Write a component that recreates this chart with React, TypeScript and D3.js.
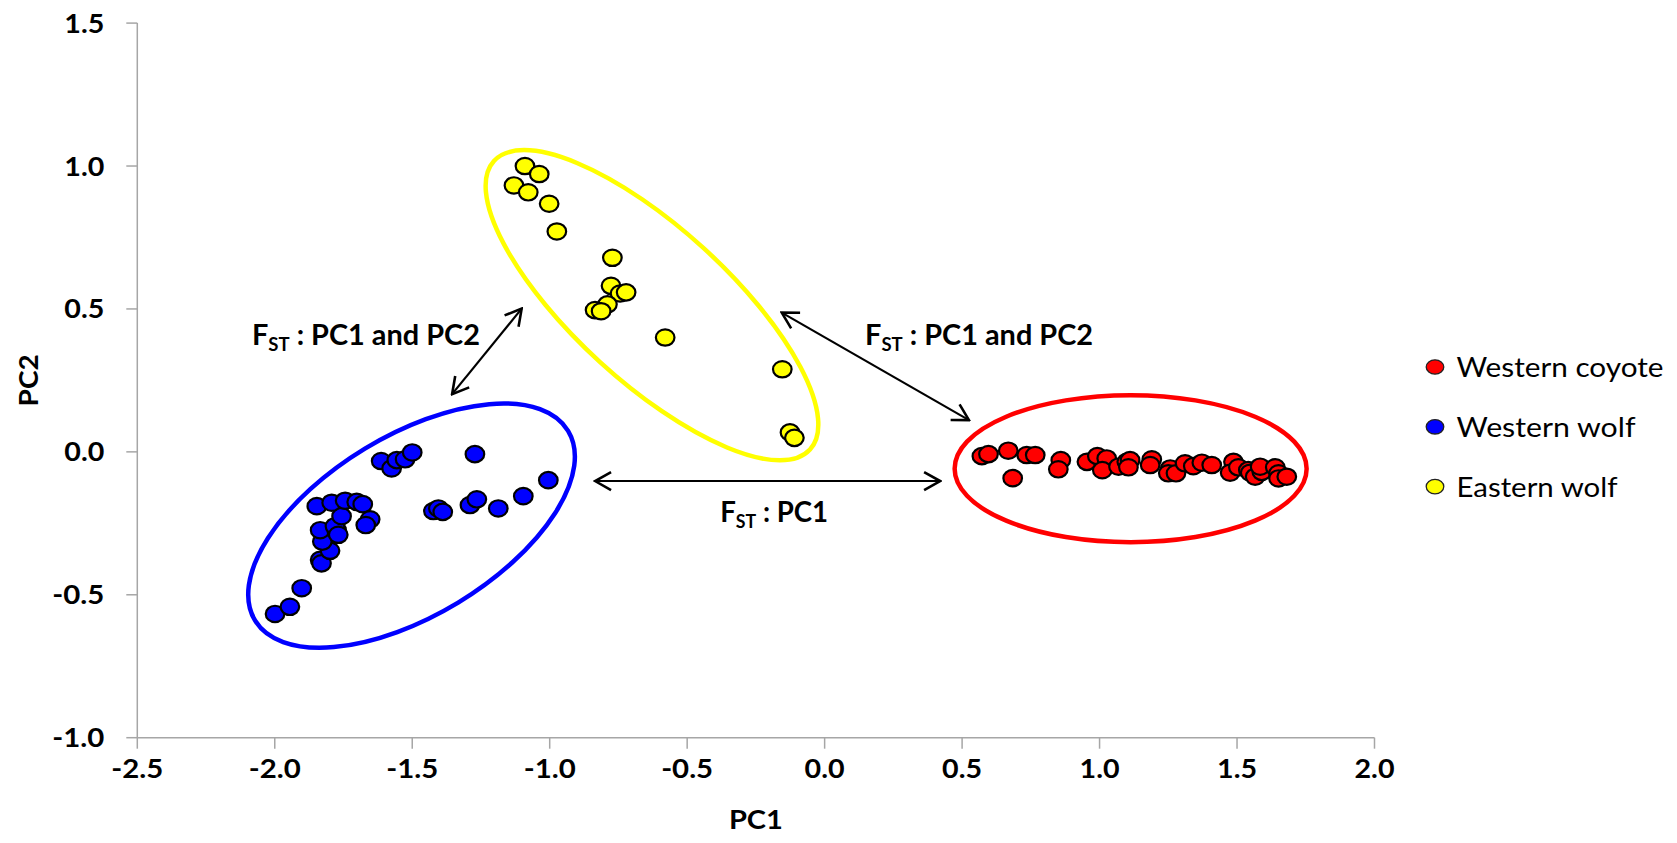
import React from "react";
import * as d3 from "d3";

const W = 1677;
const H = 843;

const X_DOMAIN: [number, number] = [-2.5, 2.0];
const Y_DOMAIN: [number, number] = [-1.0, 1.5];
const xTickValues = [-2.5, -2.0, -1.5, -1.0, -0.5, 0.0, 0.5, 1.0, 1.5, 2.0];
const yTickValues = [-1.0, -0.5, 0.0, 0.5, 1.0, 1.5];
const xTitle = "PC1";
const yTitle = "PC2";

const seriesNames = ["Western coyote", "Western wolf", "Eastern wolf"];
const seriesColors = ["#ff0000", "#0000ff", "#ffff00"];

const coyotePoints: [number, number][] = [
  [0.572, -0.015], [0.596, -0.008], [0.668, 0.004], [0.735, -0.011], [0.766, -0.011],
  [0.684, -0.092], [0.859, -0.029], [0.85, -0.061], [0.954, -0.035], [0.992, -0.015],
  [1.026, -0.023], [1.01, -0.064], [1.069, -0.052], [1.099, -0.035], [1.111, -0.029],
  [1.105, -0.054], [1.19, -0.026], [1.184, -0.046], [1.257, -0.058], [1.25, -0.075],
  [1.278, -0.075], [1.311, -0.04], [1.341, -0.05], [1.372, -0.038], [1.408, -0.046],
  [1.487, -0.035], [1.475, -0.073], [1.505, -0.054], [1.541, -0.064], [1.548, -0.073],
  [1.566, -0.087], [1.59, -0.07], [1.584, -0.052], [1.639, -0.054], [1.651, -0.075],
  [1.651, -0.093], [1.681, -0.087],
];

const wolfPoints: [number, number][] = [
  [-1.999, -0.567], [-1.945, -0.542], [-1.902, -0.477], [-1.835, -0.378], [-1.83, -0.39],
  [-1.799, -0.346], [-1.827, -0.314], [-1.835, -0.274], [-1.775, -0.274], [-1.781, -0.26],
  [-1.757, -0.225], [-1.847, -0.19], [-1.793, -0.178], [-1.744, -0.171], [-1.702, -0.175],
  [-1.68, -0.183], [-1.653, -0.236], [-1.669, -0.256], [-1.769, -0.29], [-1.613, -0.032],
  [-1.575, -0.058], [-1.556, -0.029], [-1.526, -0.026], [-1.5, -0.002], [-1.423, -0.207],
  [-1.405, -0.198], [-1.389, -0.21], [-1.29, -0.186], [-1.265, -0.166], [-1.272, -0.008],
  [-1.187, -0.198], [-1.096, -0.155], [-1.005, -0.099],
];

const easternPoints: [number, number][] = [
  [-1.09, 1.0], [-1.038, 0.972], [-1.13, 0.932], [-1.078, 0.908], [-1.002, 0.868],
  [-0.974, 0.771], [-0.772, 0.679], [-0.777, 0.581], [-0.744, 0.554], [-0.722, 0.558],
  [-0.79, 0.516], [-0.835, 0.496], [-0.813, 0.492], [-0.58, 0.4], [-0.154, 0.289],
  [-0.126, 0.068], [-0.11, 0.049],
];

const seriesPoints = [coyotePoints, wolfPoints, easternPoints];

// cluster outlines: centre in data units, radii (px) and rotation (deg)
const clusterCentres: [number, number][] = [[1.113, -0.059], [-1.5025, -0.258], [-0.628, 0.513]];
const clusterRadii: [number, number][] = [[176, 73.5], [183, 90], [214, 77]];
const clusterAngles = [0, -31.2, 42.4];

// double-headed arrows in data units [x1, y1, x2, y2]
const arrowEnds: [number, number, number, number][] = [
  [-1.355, 0.202, -1.102, 0.501],
  [-0.156, 0.487, 0.525, 0.111],
  [-0.835, -0.102, 0.42, -0.102],
];

// annotation labels: start position (data), text after subscript
const labelAnchors: [number, number][] = [[-2.083, 0.374], [0.147, 0.374], [-0.38, -0.245]];
const labelRests = [" : PC1 and PC2", " : PC1 and PC2", " : PC1"];
const labelWidths = [228, 228, 108];

const legendWidths = [207, 179, 161];

const FONT = "Lato, 'Open Sans', 'DejaVu Sans', sans-serif";

export default function App() {
  const plotLeft = 137.3;
  const plotRight = 1374.5;
  const plotTop = 23.1;
  const plotBottom = 737.7;
  const x = d3.scaleLinear().domain(X_DOMAIN).range([plotLeft, plotRight]);
  const y = d3.scaleLinear().domain(Y_DOMAIN).range([plotBottom, plotTop]);
  const fmt = (v: number) => v.toFixed(1);
  const tickW = (v: number) => (v < 0 ? 52 : 40);
  const axisColor = "#a6a6a6";

  return (
    <svg
      width={W}
      height={H}
      style={{ position: "absolute", left: 0, top: 0, background: "#fff" }}
      fontFamily={FONT}
    >
      <defs>
        <marker
          id="chev"
          viewBox="-22 -12 24 24"
          refX={0}
          refY={0}
          markerWidth={24}
          markerHeight={24}
          markerUnits="userSpaceOnUse"
          orient="auto-start-reverse"
        >
          <path d="M-16,-9 L0,0 L-16,9" fill="none" stroke="#000" strokeWidth={2.6} />
        </marker>
      </defs>
      <rect x={0} y={0} width={W} height={H} fill="#fff" />

      {/* axes */}
      <line x1={plotLeft} x2={plotLeft} y1={plotTop} y2={plotBottom} stroke={axisColor} strokeWidth={1.5} />
      <line x1={plotLeft} x2={plotRight} y1={plotBottom} y2={plotBottom} stroke={axisColor} strokeWidth={1.5} />
      {yTickValues.map((v) => (
        <g key={"yt" + v}>
          <line x1={plotLeft - 11} x2={plotLeft} y1={y(v)} y2={y(v)} stroke={axisColor} strokeWidth={1.5} />
          <text
            x={plotLeft - 33 - tickW(v)}
            y={y(v) + 9.5}
            fontSize={27}
            fontWeight={700}
            fill="#000"
            textLength={tickW(v)}
            lengthAdjust="spacingAndGlyphs"
          >
            {fmt(v)}
          </text>
        </g>
      ))}
      {xTickValues.map((v) => (
        <g key={"xt" + v}>
          <line x1={x(v)} x2={x(v)} y1={plotBottom} y2={plotBottom + 11} stroke={axisColor} strokeWidth={1.5} />
          <text
            x={x(v) - tickW(v) / 2}
            y={778}
            fontSize={27}
            fontWeight={700}
            fill="#000"
            textLength={tickW(v)}
            lengthAdjust="spacingAndGlyphs"
          >
            {fmt(v)}
          </text>
        </g>
      ))}
      <text
        x={(plotLeft + plotRight) / 2 - 27}
        y={829}
        fontSize={27}
        fontWeight={700}
        textLength={54}
        lengthAdjust="spacingAndGlyphs"
      >
        {xTitle}
      </text>
      <text
        transform={`translate(38,${(plotTop + plotBottom) / 2 + 26}) rotate(-90)`}
        fontSize={27}
        fontWeight={700}
        textLength={52}
        lengthAdjust="spacingAndGlyphs"
      >
        {yTitle}
      </text>

      {/* points */}
      {seriesPoints.map((pts, si) => (
        <g key={"s" + si}>
          {pts.map((p, i) => (
            <ellipse
              key={i}
              cx={x(p[0])}
              cy={y(p[1])}
              rx={9.3}
              ry={8.2}
              fill={seriesColors[si]}
              stroke="#000"
              strokeWidth={2.2}
            />
          ))}
        </g>
      ))}

      {/* cluster ellipses */}
      {clusterCentres.map((c, i) => {
        const cx = x(c[0]);
        const cy = y(c[1]);
        return (
          <ellipse
            key={"e" + i}
            cx={cx}
            cy={cy}
            rx={clusterRadii[i][0]}
            ry={clusterRadii[i][1]}
            transform={`rotate(${clusterAngles[i]},${cx},${cy})`}
            fill="none"
            stroke={seriesColors[i]}
            strokeWidth={4.5}
          />
        );
      })}

      {/* arrows */}
      {arrowEnds.map((a, i) => (
        <line
          key={"a" + i}
          x1={x(a[0])}
          y1={y(a[1])}
          x2={x(a[2])}
          y2={y(a[3])}
          stroke="#000"
          strokeWidth={2.2}
          markerStart="url(#chev)"
          markerEnd="url(#chev)"
        />
      ))}

      {/* annotation labels */}
      {labelAnchors.map((p, i) => (
        <text
          key={"l" + i}
          x={x(p[0])}
          y={y(p[1])}
          fontSize={28}
          fontWeight={700}
          textLength={labelWidths[i]}
          lengthAdjust="spacingAndGlyphs"
        >
          F
          <tspan fontSize={18} dy={6}>
            ST
          </tspan>
          <tspan dy={-6}>{labelRests[i]}</tspan>
        </text>
      ))}

      {/* legend */}
      {seriesNames.map((name, i) => (
        <g key={"lg" + i} transform={`translate(1435,${367 + i * 59.8})`}>
          <ellipse cx={0} cy={0} rx={8.8} ry={7.2} fill={seriesColors[i]} stroke="#222" strokeWidth={1.3} />
          <text
            x={21.5}
            y={10}
            fontSize={27}
            fill="#000"
            textLength={legendWidths[i]}
            lengthAdjust="spacingAndGlyphs"
          >
            {name}
          </text>
        </g>
      ))}
    </svg>
  );
}
